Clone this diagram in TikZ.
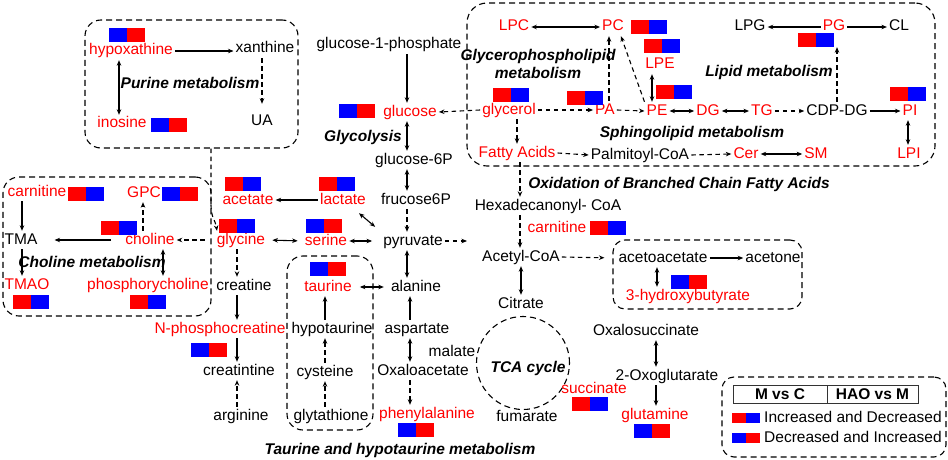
\documentclass[tikz,border=0pt]{standalone}
\usepackage{fontspec}
\setmainfont{Liberation Sans}
\usetikzlibrary{arrows.meta}
\definecolor{cR}{RGB}{255,0,0}
\definecolor{cB}{RGB}{0,0,255}
\newcommand{\fs}{\fontsize{15.5}{18}\selectfont}
\begin{document}
\begin{tikzpicture}[x=1pt,y=-1pt,
  tx/.style={inner sep=2pt, text height=11pt, text depth=3pt, font=\fs},
  rtx/.style={tx, text=cR},
  lab/.style={inner sep=0pt, font=\fs\bfseries\itshape},
  box/.style={draw, line width=1.1pt, dash pattern=on 6pt off 4pt, rounded corners=16pt, inner sep=0pt},
  lw/.style={line width=1.1pt},
  ar/.style={lw, -{Stealth[length=5.5pt,width=4.5pt]}},
  dar/.style={lw, {Stealth[length=5.5pt,width=4.5pt]}-{Stealth[length=5.5pt,width=4.5pt]}},
  dsh/.style={dash pattern=on 4.5pt off 3.5pt},
  rb/.pic={\fill[cR] (-18,-7) rectangle (0,7); \fill[cB] (0,-7) rectangle (18,7);},
  br/.pic={\fill[cB] (-18,-7) rectangle (0,7); \fill[cR] (0,-7) rectangle (18,7);},
  rbs/.pic={\fill[cR] (-14,-5) rectangle (0,5); \fill[cB] (0,-5) rectangle (14,5);},
  brs/.pic={\fill[cB] (-14,-5) rectangle (0,5); \fill[cR] (0,-5) rectangle (14,5);},
]
\fill[white] (0,0) rectangle (948,460);
\useasboundingbox (0,0) rectangle (948,460);

% ---------- Purine ----------
\node[box, minimum width=213pt, minimum height=128pt] (pbox) at (191.5,84) {};
\node[rtx] (hypox) at (131,51) {hypoxathine};
\node[tx] (xan) at (265,49) {xanthine};
\node[tx] (ua) at (262,121) {UA};
\node[rtx] (ino) at (122,124) {inosine};
\node[lab] (lpur) at (190,83) {Purine metabolism};
\pic at (126.5,35.5) {br};
\pic at (168.5,125) {br};

% ---------- Choline ----------
\node[box, minimum width=208pt, minimum height=139pt] (cbox) at (107,246.5) {};
\node[rtx] (carn1) at (37,192) {carnitine};
\node[rtx] (gpc) at (144,193) {GPC};
\node[tx] (tma) at (21,240) {TMA};
\node[rtx] (chol) at (150,240) {choline};
\node[lab] (lchol) at (92,262) {Choline metabolism};
\node[rtx] (tmao) at (27,285) {TMAO};
\node[rtx] (pcho) at (148,285) {phosphorycholine};
\pic at (85.5,194) {rb};
\pic at (179.5,194) {br};
\pic at (118.5,228) {rb};
\pic at (31,301.5) {rb};
\pic at (148,301.5) {rb};

% ---------- Glycolysis / amino acids ----------
\node[tx] (g1p) at (389,45) {glucose-1-phosphate};
\node[rtx] (glc) at (410,112) {glucose};
\pic at (357,111) {br};
\node[lab] (lgly) at (363,137) {Glycolysis};
\node[tx] (g6p) at (414,160) {glucose-6P};
\node[tx] (f6p) at (416,200) {frucose6P};
\node[tx] (pyr) at (413,241) {pyruvate};
\coordinate (pyrend) at (467,241);
\node[tx] (ala) at (416,287) {alanine};
\node[tx] (asp) at (417,329) {aspartate};
\node[tx] (oaa) at (423,371) {Oxaloacetate};
\node[rtx] (phe) at (427,414) {phenylalanine};
\pic at (415.5,430) {br};
\node[rtx] (lac) at (343,200) {lactate};
\pic at (337,184) {rb};
\node[rtx] (ace) at (248,200) {acetate};
\pic at (242.5,184) {rb};
\node[rtx] (gly) at (241,240) {glycine};
\pic at (237,225.5) {rb};
\node[rtx] (ser) at (326,241) {serine};
\pic at (323.5,226) {br};
\node[tx] (cre) at (244,286) {creatine};
\node[rtx] (npc) at (220,329) {N-phosphocreatine};
\pic at (208.5,349.5) {br};
\node[tx] (crn) at (239,371) {creatintine};
\node[tx] (arg) at (241,416) {arginine};

% ---------- Taurine ----------
\node[box, minimum width=86pt, minimum height=174pt] (tbox) at (330,343) {};
\node[rtx] (tau) at (328,287) {taurine};
\pic at (328,269) {br};
\node[tx] (hyt) at (332,329) {hypotaurine};
\node[tx] (cys) at (325,372) {cysteine};
\node[tx] (glt) at (331,416) {glytathione};
\node[lab] (ltau) at (400,450) {Taurine and hypotaurine metabolism};

% ---------- Lipid ----------
\node[box, rounded corners=20pt, minimum width=468pt, minimum height=163pt] (lbox) at (701,84.5) {};
\node[rtx] (lpc) at (514,27) {LPC};
\node[rtx] (pc) at (613,27) {PC};
\pic at (648.5,27.5) {rb};
\node[tx] (lpg) at (750,27) {LPG};
\node[rtx] (pg) at (834,27) {PG};
\node[tx] (cl) at (899,27) {CL};
\pic at (816,40) {rb};
\node[lab, align=center] (lgp) at (538,64) {Glycerophospholipid\\metabolism};
\node[lab] (llip) at (769,72) {Lipid metabolism};
\node[rtx] (lpe) at (660,65) {LPE};
\pic at (662,46) {rb};
\node[rtx] (glyc) at (509,110) {glycerol};
\pic at (510.5,95) {rb};
\node[rtx] (pa) at (605,110) {PA};
\pic at (584.5,97.5) {rb};
\node[rtx] (pe) at (657,111) {PE};
\pic at (673.5,92) {rb};
\node[rtx] (dg) at (708,111) {DG};
\node[rtx] (tg) at (762,111) {TG};
\node[tx] (cdp) at (837,111) {CDP-DG};
\node[rtx] (pi) at (910,111) {PI};
\pic at (908,94) {rb};
\node[lab] (lsph) at (692,133) {Sphingolipid metabolism};
\node[rtx] (fa) at (517,153) {Fatty Acids};
\node[tx] (palm) at (640,155) {Palmitoyl-CoA};
\node[rtx] (cer) at (746,154) {Cer};
\node[rtx] (sm) at (816,154) {SM};
\node[rtx] (lpi) at (909,154) {LPI};

% ---------- Middle / TCA ----------
\node[tx] (hexa) at (548,206) {Hexadecanonyl- CoA};
\node[lab] (lox) at (679,184) {Oxidation of Branched Chain Fatty Acids};
\node[rtx] (carn2) at (557,228) {carnitine};
\pic at (608,227.5) {rb};
\node[tx] (acoa) at (521,257) {Acetyl-CoA};
\node[tx] (cit) at (521,304) {Citrate};
\node[box, rounded corners=12pt, minimum width=189pt, minimum height=69pt] (kbox) at (707.5,274.5) {};
\node[tx] (aca) at (663,258) {acetoacetate};
\node[tx] (acn) at (773,258) {acetone};
\node[rtx] (hb) at (688,296) {3-hydroxybutyrate};
\pic at (689,281.5) {br};
\node[tx] (mal) at (452,352) {malate};
\node[draw, circle, line width=1.1pt, dash pattern=on 6pt off 4pt, minimum size=93pt, inner sep=0pt] (tca) at (523,363) {};
\node[lab] (ltca) at (528,368) {TCA cycle};
\node[tx] (fum) at (527,417) {fumarate};
\node[rtx] (suc) at (594,389) {succinate};
\pic at (589.5,404) {rb};
\node[tx] (oxs) at (646,331) {Oxalosuccinate};
\node[tx] (oxg) at (667,376) {2-Oxoglutarate};
\node[rtx] (gln) at (655,415) {glutamine};
\pic at (651.5,430.5) {br};

% ---------- Legend ----------
\node[box, rounded corners=12pt, minimum width=224pt, minimum height=80pt] (legbox) at (834,417) {};
\node[draw=black!80, line width=1pt, minimum width=94pt, minimum height=18pt, inner sep=0pt, font=\fs\bfseries] (mc) at (780,394) {M vs C};
\node[draw=black!80, line width=1pt, minimum width=91pt, minimum height=18pt, inner sep=0pt, font=\fs\bfseries] (hm) at (872.5,394) {HAO vs M};
\pic at (746,418) {rbs};
\pic at (746,438) {brs};
\node[tx, anchor=west] (leg1) at (762,418) {Increased and Decreased};
\node[tx, anchor=west] (leg2) at (762,438) {Decreased and Increased};

% ---------- Connectors ----------
% purine
\draw[ar] (hypox.east) -- (hypox.east -| xan.west);
\draw[ar,dsh,shorten >=8pt] (xan.south -| ua.north) -- (ua.north);
\draw[dar] ([xshift=-12pt]hypox.south) -- ([xshift=-3pt]ino.north);
\draw[ar,dsh] ([xshift=19.5pt]pbox.south) -- ++(0,55) .. controls +(0,15) and +(-2,-12) .. ([xshift=-24pt]gly.north);
% choline
\draw[ar] ([xshift=-15pt]carn1.south) -- ([xshift=1pt]tma.north);
\draw[ar,shorten <=12pt,shorten >=15pt] (chol.west) -- (tma.east);
\draw[ar,dsh] ([xshift=-7pt]chol.north) -- ([xshift=-1pt]gpc.south);
\draw[ar,dsh,shorten <=10pt] (gly.west) -- (chol.east);
\draw[ar] ([xshift=1pt]tma.south) -- ([xshift=-5pt]tmao.north);
\draw[dar] ([xshift=13pt]chol.south) -- ([xshift=15pt]pcho.north);
% glycine / creatine
\draw[ar,dsh] ([xshift=-4pt]gly.south) -- ([xshift=-7pt]cre.north);
\draw[ar] ([xshift=-7pt]cre.south) -- ([xshift=17pt]npc.north);
\draw[ar] ([xshift=17pt]npc.south) -- ([xshift=-2pt]crn.north);
\draw[ar,dsh] ([xshift=-4pt]arg.north) -- ([xshift=-2pt]crn.south);
\draw[dar,shorten <=5pt,shorten >=5pt] (gly.east) -- (ser.west);
\draw[dar,shorten >=9pt] (ser.east) -- (pyr.west);
\draw[ar] (lac.west) -- (ace.east);
\draw[dar] ([xshift=-9pt,yshift=-4pt]lac.south east) -- ([xshift=-6pt,yshift=5pt]pyr.north west);
% glycolysis
\draw[ar] ([xshift=18pt]g1p.south) -- ([xshift=-3pt]glc.north);
\draw[ar,dsh] (glyc.west) -- (glc.east);
\draw[dar] ([xshift=-3pt]glc.south) -- ([xshift=-7pt]g6p.north);
\draw[dar] ([xshift=-7pt]g6p.south) -- ([xshift=-9pt]f6p.north);
\draw[ar,dsh] ([xshift=-9pt]f6p.south) -- ([xshift=-6pt]pyr.north);
\draw[ar,dsh] (pyr.east) -- (pyrend);
\draw[dar] ([xshift=-6pt]pyr.south) -- ([xshift=-9pt]ala.north);
\draw[dar,shorten <=6pt,shorten >=5pt] (tau.east) -- (ala.west);
\draw[ar] ([xshift=-7pt]asp.north) -- ([xshift=-6pt]ala.south);
\draw[dar] ([xshift=-7pt]asp.south) -- ([xshift=-13pt]oaa.north);
\draw[ar,dsh] ([xshift=-13pt]oaa.south) -- ([xshift=-17pt]phe.north);
% taurine
\draw[ar] ([xshift=-7pt]hyt.north) -- ([xshift=-3pt]tau.south);
\draw[ar,dsh] (cys.north) -- ([xshift=-7pt]hyt.south);
\draw[ar,dsh] ([xshift=-6pt]glt.north) -- (cys.south);
% lipid
\draw[dar] (lpc.east) -- (pc.west);
\draw[ar,dsh] ([xshift=4pt]pa.north) -- ([xshift=-4pt]pc.south);
\draw[ar,dsh] (pe.north west) -- ([xshift=-5pt]pc.south east);
\draw[dar] ([xshift=-5pt]pe.north) -- ([xshift=-8pt]lpe.south);
\draw[ar,dsh] (glyc.east) -- (pa.west);
\draw[ar,dsh] (pa.east) -- (pe.west);
\draw[dar] (pe.east) -- (dg.west);
\draw[dar] (dg.east) -- (tg.west);
\draw[ar,dsh] (tg.east) -- (cdp.west);
\draw[ar] (cdp.east) -- (pi.west);
\draw[dar] ([xshift=-2pt]pi.south) -- ([xshift=-1pt]lpi.north);
\draw[ar,dsh,shorten >=11pt] (cdp.north) -- ([xshift=3pt]pg.south);
\draw[ar] (pg.west) -- (lpg.east);
\draw[ar] (pg.east) -- (cl.west);
\draw[ar,dsh] ([xshift=8pt]glyc.south) -- (fa.north);
\draw[ar,dsh] (fa.east) -- (palm.west);
\draw[ar,dsh] (palm.east) -- (cer.west);
\draw[dar] (cer.east) -- (sm.west);
% oxidation / ketone / TCA
\draw[ar,dsh] ([xshift=3pt]fa.south) -- ([xshift=-28pt]hexa.north);
\draw[ar,dsh] ([xshift=-28pt]hexa.south) -- ([xshift=-1pt]acoa.north);
\draw[ar,dsh,shorten >=12pt] (acoa.east) -- (aca.west);
\draw[dar] (acoa.south) -- (cit.north);
\draw[ar] (aca.east) -- (acn.west);
\draw[dar] ([xshift=-6pt]aca.south) -- ([xshift=-31pt]hb.north);
\draw[dar] ([xshift=10pt]oxs.south) -- ([xshift=-11pt]oxg.north);
\draw[ar] ([xshift=-11pt]oxg.south) -- ([xshift=1pt]gln.north);
\end{tikzpicture}
\end{document}
